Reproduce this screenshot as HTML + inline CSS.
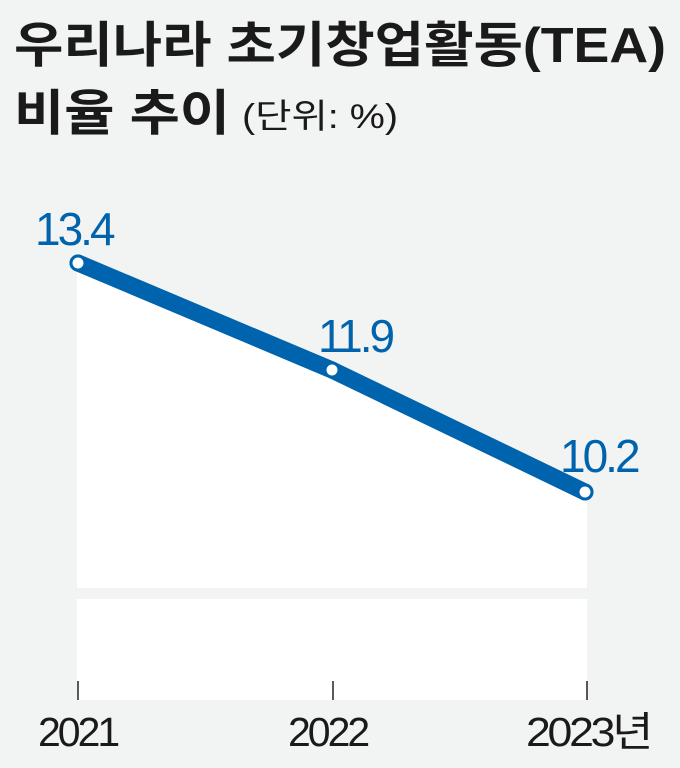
<!DOCTYPE html>
<html><head><meta charset="utf-8"><style>
body{margin:0;width:680px;height:768px;background:#f2f3f3;overflow:hidden;font-family:"Liberation Sans","Noto Sans CJK KR",sans-serif}
</style></head><body>
<svg width="680" height="768" xmlns="http://www.w3.org/2000/svg" style="position:absolute;left:0;top:0">
<rect width="680" height="768" fill="#f2f3f3"/>
<polygon points="77,263 332,370 587,492 587,588 77,588" fill="#fff"/>
<rect x="77" y="599" width="510" height="101" fill="#fff"/>
<g stroke="#222" stroke-width="1.5">
<line x1="78" y1="681" x2="78" y2="700"/><line x1="333" y1="681" x2="333" y2="700"/><line x1="587" y1="681" x2="587" y2="700"/>
</g>
<polyline points="78,263 332,370 585,492" fill="none" stroke="#0063ad" stroke-width="17" stroke-linecap="round" stroke-linejoin="round"/>
<g fill="#fff" stroke="#0063ad" stroke-width="3">
<circle cx="78" cy="263" r="7"/><circle cx="332" cy="370" r="7"/><circle cx="585" cy="492" r="7"/>
</g>
<g font-family="Liberation Sans, Noto Sans CJK KR, sans-serif" fill="#0063ad" font-size="46" letter-spacing="-3">
<text x="35" y="245">13.4</text>
<text x="318" y="352">11.9</text>
<text x="560" y="472">10.2</text>
</g>
<g font-family="Liberation Sans, Noto Sans CJK KR, sans-serif" fill="#1a1a1a" font-size="41" letter-spacing="-3">
<text x="38" y="746">2021</text>
<text x="288" y="746">2022</text>
<text x="526" y="746" textLength="124" lengthAdjust="spacingAndGlyphs">2023년</text>
</g>
<text x="14" y="62" font-family="Liberation Sans, Noto Sans CJK KR, sans-serif" font-weight="bold" font-size="49" fill="#1a1a1a" textLength="652" lengthAdjust="spacingAndGlyphs">우리나라 초기창업활동(TEA)</text>
<text x="14" y="130" font-family="Liberation Sans, Noto Sans CJK KR, sans-serif" font-weight="bold" font-size="49" fill="#1a1a1a" textLength="216" lengthAdjust="spacingAndGlyphs">비율 추이</text>
<text x="242" y="128" font-family="Liberation Sans, Noto Sans CJK KR, sans-serif" font-size="34" fill="#1a1a1a" textLength="156" lengthAdjust="spacingAndGlyphs">(단위: %)</text>
</svg>
</body></html>
